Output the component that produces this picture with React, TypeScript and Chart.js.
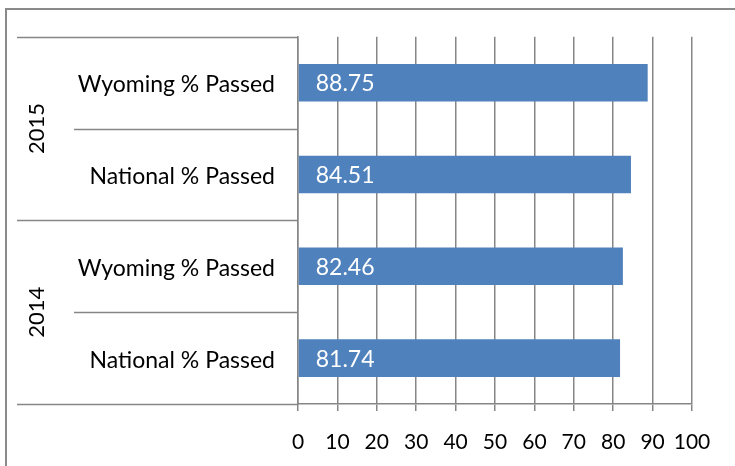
import React, { useEffect, useRef } from "react";
import { Chart, registerables } from "chart.js";

Chart.register(...registerables);

// ---- data ----
const categoryLabels = ["Wyoming % Passed", "National % Passed", "Wyoming % Passed", "National % Passed"];
const categoryYears = ["2015", "2015", "2014", "2014"];
const passedValues = [88.75, 84.51, 82.46, 81.74];
const xMin = 0;
const xMax = 100;
const xStep = 10;

const FONT = "Lato, 'Open Sans', sans-serif";
const GRAY = "#868686";

const decorPlugin = {
  id: "decor",
  beforeDraw(chart: any) {
    const { ctx } = chart;
    ctx.save();
    ctx.fillStyle = "#ffffff";
    ctx.fillRect(0, 0, chart.width, chart.height);
    ctx.strokeStyle = "#8a8a8a";
    ctx.lineWidth = 2;
    ctx.strokeRect(6, 9, 900, 700);
    ctx.restore();
  },
  afterDraw(chart: any) {
    const { ctx, chartArea } = chart;
    const yScale = chart.scales.y;
    const n = categoryLabels.length;
    const p = (i: number) => yScale.getPixelForValue(i);
    const half = n > 1 ? (p(1) - p(0)) / 2 : 20;
    const bounds: number[] = [];
    for (let i = 0; i <= n; i++) {
      if (i === 0) bounds.push(p(0) - half);
      else if (i === n) bounds.push(p(n - 1) + half);
      else bounds.push((p(i - 1) + p(i)) / 2);
    }
    ctx.save();
    ctx.strokeStyle = GRAY;
    ctx.lineWidth = 1.5;
    // horizontal divider lines in the label area
    for (let i = 0; i <= n; i++) {
      const isYearBoundary = i === 0 || i === n || categoryYears[i] !== categoryYears[i - 1];
      const x0 = isYearBoundary ? 17 : 74;
      const yy = Math.round(bounds[i]) + 0.5;
      ctx.beginPath();
      ctx.moveTo(x0, yy);
      ctx.lineTo(chartArea.left, yy);
      ctx.stroke();
    }
    // year group labels (rotated)
    ctx.fillStyle = "#000";
    ctx.font = `22px ${FONT}`;
    ctx.textAlign = "center";
    ctx.textBaseline = "middle";
    let start = 0;
    for (let i = 1; i <= n; i++) {
      if (i === n || categoryYears[i] !== categoryYears[start]) {
        const cy = (bounds[start] + bounds[i]) / 2;
        ctx.save();
        ctx.translate(37, cy);
        ctx.rotate(-Math.PI / 2);
        ctx.fillText(categoryYears[start], 0, 0);
        ctx.restore();
        start = i;
      }
    }
    // data labels
    const meta = chart.getDatasetMeta(0);
    ctx.fillStyle = "#ffffff";
    ctx.font = `23px ${FONT}`;
    ctx.textAlign = "left";
    ctx.textBaseline = "middle";
    meta.data.forEach((bar: any, i: number) => {
      ctx.fillText(passedValues[i].toFixed(2), bar.base + 17, bar.y + 1);
    });
    ctx.restore();
  },
};

export default function App() {
  const canvasRef = useRef<HTMLCanvasElement | null>(null);

  useEffect(() => {
    if (!canvasRef.current) return;
    const chart = new Chart(canvasRef.current, {
      type: "bar",
      data: {
        labels: categoryLabels,
        datasets: [
          {
            data: passedValues,
            backgroundColor: "#4F81BD",
            borderWidth: 0,
            barPercentage: 0.41,
            categoryPercentage: 1,
          },
        ],
      },
      options: {
        indexAxis: "y",
        animation: false,
        responsive: true,
        maintainAspectRatio: false,
        layout: { padding: { top: 35, right: 43, bottom: 0, left: 0 } },
        plugins: {
          legend: { display: false },
          tooltip: { enabled: false },
          title: { display: false },
        },
        scales: {
          x: {
            type: "linear",
            min: xMin,
            max: xMax,
            ticks: {
              stepSize: xStep,
              color: "#000",
              font: { family: FONT, size: 21 },
              padding: 19,
              maxRotation: 0,
              minRotation: 0,
              autoSkip: false,
            },
            grid: {
              color: GRAY,
              lineWidth: 1.5,
              tickLength: 7,
              drawTicks: true,
            },
            border: { display: true, color: GRAY, width: 1.5 },
            afterFit(scale: any) {
              scale.height = 62;
            },
          },
          y: {
            type: "category",
            ticks: {
              color: "#000",
              font: { family: FONT, size: 23 },
              padding: 23,
              labelOffset: 2,
            },
            grid: { display: false, drawTicks: false },
            border: { display: true, color: GRAY, width: 1.5 },
            afterFit(scale: any) {
              scale.width = 298;
            },
          },
        },
      },
      plugins: [decorPlugin],
    } as any);
    return () => chart.destroy();
  }, []);

  return (
    <div style={{ position: "fixed", left: 0, top: 0, width: 735, height: 466, background: "#fff" }}>
      <canvas ref={canvasRef} />
    </div>
  );
}
